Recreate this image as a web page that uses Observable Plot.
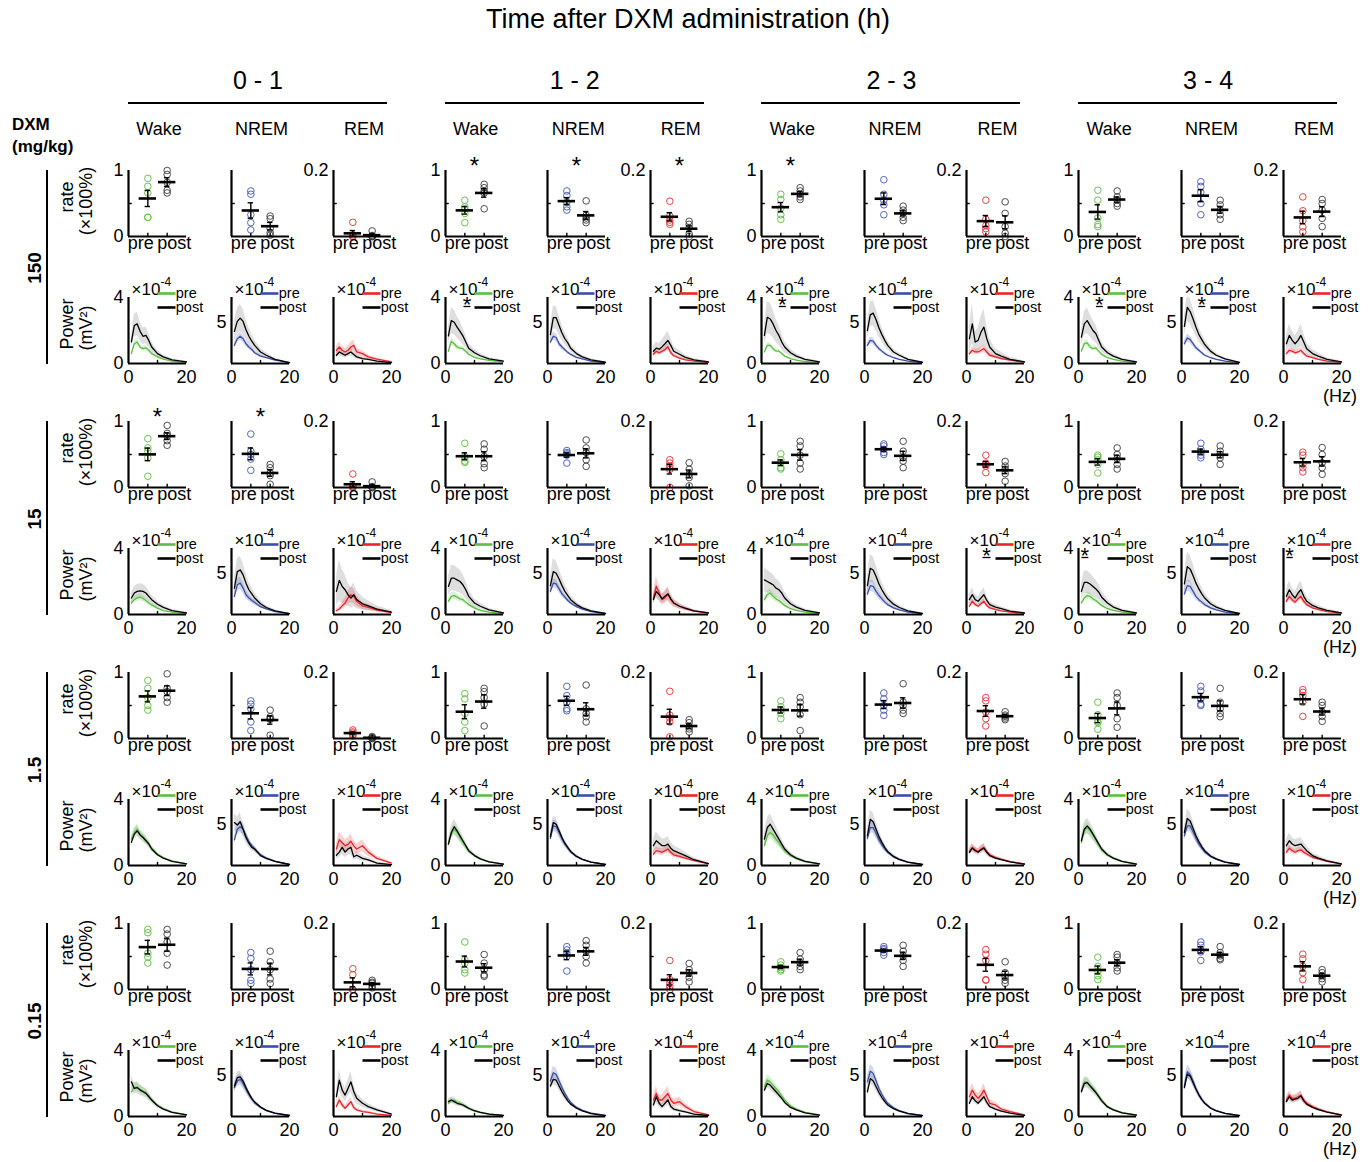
<!DOCTYPE html>
<html><head><meta charset="utf-8">
<script src="https://cdn.jsdelivr.net/npm/d3@7"></script>
<script src="https://cdn.jsdelivr.net/npm/@observablehq/plot@0.6"></script>
<style>
body{margin:0;background:#fff;font-family:"Liberation Sans",Arial,sans-serif;}
#root{position:relative;width:1370px;height:1162px;overflow:hidden;background:#fff;}
.lbl{position:absolute;white-space:nowrap;color:#000;line-height:1;transform:translate(-50%,-50%);}
.rot{transform:translate(-50%,-50%) rotate(-90deg);}
.hline{position:absolute;background:#000;}
.panel{position:absolute;}
.panel svg{overflow:visible;max-width:none;}
</style></head>
<body><div id="root"></div>
<script>
// ---------- categories ----------
const doseLabels = ["150", "15", "1.5", "0.15"];
const windowLabels = ["0 - 1", "1 - 2", "2 - 3", "3 - 4"];
const stateLabels = ["Wake", "NREM", "REM"];
const freqs = [1, 2, 3, 4, 5, 6, 7, 8, 10, 12, 15, 20]; // Hz

// ---------- rate (fraction of time), 5 animals, panel order: window x state ----------
const ratePre150 = [[0.88,0.76,0.66,0.29,0.29],[0.69,0.64,0.33,0.21,0.10],[0.043,0.005,0,0,0],
  [0.55,0.45,0.42,0.35,0.21],[0.69,0.62,0.52,0.45,0.40],[0.107,0.062,0.05,0.043,0.037],
  [0.64,0.56,0.43,0.33,0.26],[0.86,0.64,0.55,0.48,0.33],[0.11,0.052,0.033,0.024,0.014],
  [0.70,0.55,0.28,0.18,0.15],[0.83,0.76,0.67,0.50,0.33],[0.12,0.078,0.048,0.029,0.014]];
const ratePost150 = [[1.0,0.94,0.82,0.70,0.66],[0.31,0.27,0.12,0.06,0.02],[0.017,0.003,0,0,0],
  [0.79,0.74,0.69,0.66,0.42],[0.54,0.32,0.28,0.25,0.21],[0.046,0.037,0.027,0.008,0.0],
  [0.74,0.69,0.64,0.60,0.56],[0.46,0.40,0.36,0.29,0.24],[0.105,0.07,0.03,0.01,0.0],
  [0.69,0.60,0.55,0.50,0.46],[0.55,0.48,0.40,0.33,0.26],[0.112,0.10,0.08,0.055,0.03]];
const ratePre15 = [[0.74,0.60,0.55,0.45,0.17],[0.81,0.55,0.50,0.43,0.26],[0.041,0.005,0.003,0,0],
  [0.67,0.47,0.45,0.40,0.38],[0.56,0.53,0.51,0.49,0.37],[0.084,0.074,0.065,0.055,0.0],
  [0.51,0.42,0.37,0.30,0.28],[0.66,0.63,0.58,0.53,0.50],[0.098,0.074,0.07,0.065,0.045],
  [0.49,0.46,0.42,0.35,0.22],[0.67,0.58,0.53,0.49,0.45],[0.107,0.098,0.07,0.06,0.047]];
const ratePost15 = [[0.94,0.82,0.78,0.71,0.64],[0.35,0.30,0.22,0.18,0.05],[0.017,0.003,0,0,0],
  [0.66,0.58,0.47,0.36,0.30],[0.72,0.60,0.53,0.42,0.32],[0.075,0.055,0.04,0.03,0.005],
  [0.70,0.63,0.49,0.37,0.28],[0.70,0.55,0.45,0.40,0.30],[0.079,0.065,0.056,0.042,0.019],
  [0.60,0.50,0.44,0.35,0.28],[0.63,0.55,0.50,0.45,0.35],[0.121,0.10,0.075,0.06,0.04]];
const ratePre1p5 = [[0.88,0.76,0.62,0.50,0.43],[0.57,0.52,0.45,0.25,0.12],[0.026,0.02,0.016,0.012,0.008],
  [0.68,0.60,0.38,0.25,0.12],[0.79,0.65,0.55,0.45,0.42],[0.143,0.071,0.062,0.05,0.005],
  [0.57,0.48,0.43,0.38,0.30],[0.69,0.60,0.50,0.43,0.35],[0.124,0.114,0.08,0.06,0.038],
  [0.55,0.36,0.26,0.24,0.14],[0.79,0.72,0.60,0.50,0.52],[0.148,0.14,0.13,0.11,0.067]];
const ratePost1p5 = [[0.98,0.76,0.71,0.62,0.55],[0.43,0.33,0.29,0.30,0.05],[0.006,0.003,0.002,0,0],
  [0.76,0.71,0.62,0.52,0.19],[0.81,0.45,0.38,0.33,0.25],[0.057,0.048,0.035,0.029,0.02],
  [0.62,0.55,0.48,0.36,0.12],[0.83,0.55,0.50,0.43,0.38],[0.081,0.071,0.067,0.062,0.057],
  [0.69,0.62,0.50,0.30,0.17],[0.76,0.55,0.45,0.38,0.33],[0.11,0.10,0.08,0.067,0.052]];
const ratePre0p15 = [[0.91,0.86,0.55,0.49,0.40],[0.56,0.47,0.30,0.14,0.09],[0.063,0.045,0,0,0],
  [0.72,0.45,0.40,0.30,0.25],[0.65,0.60,0.55,0.50,0.28],[0.088,0.03,0.019,0.009,0.0],
  [0.42,0.37,0.33,0.30,0.28],[0.65,0.62,0.60,0.56,0.52],[0.121,0.107,0.088,0.03,0.028],
  [0.49,0.35,0.28,0.21,0.15],[0.72,0.67,0.60,0.57,0.44],[0.107,0.093,0.07,0.051,0.03]];
const ratePost0p15 = [[0.91,0.84,0.72,0.55,0.37],[0.58,0.42,0.30,0.16,0.09],[0.028,0.022,0.019,0.011,0.005],
  [0.53,0.40,0.30,0.22,0.20],[0.74,0.67,0.58,0.50,0.40],[0.079,0.06,0.051,0.037,0.023],
  [0.56,0.46,0.40,0.35,0.30],[0.67,0.58,0.51,0.44,0.35],[0.084,0.051,0.037,0.028,0.019],
  [0.53,0.49,0.40,0.33,0.28],[0.65,0.56,0.51,0.47,0.45],[0.06,0.051,0.042,0.033,0.023]];

// ---------- power spectra (x1e-4 mV^2) at freqs ----------
const powerPre150 = [
  [0.6,1.2,1.3,1.0,0.9,0.95,0.8,0.6,0.4,0.26,0.15,0.06],[2.2,3.0,3.3,3.0,2.4,2.0,1.7,1.3,0.9,0.7,0.4,0.1],[0.8,1.0,0.8,0.7,0.8,1.0,1.1,0.7,0.6,0.4,0.26,0.1],
  [0.74,1.34,1.2,1.0,0.93,0.9,0.74,0.56,0.37,0.28,0.19,0.1],[2.6,3.3,3.15,2.4,2.0,1.67,1.35,1.1,0.74,0.55,0.3,0.1],[0.56,0.74,0.65,0.74,0.84,1.02,0.65,0.47,0.33,0.22,0.15,0.07],
  [0.7,1.1,1.1,0.9,0.75,0.75,0.6,0.45,0.3,0.2,0.12,0.05],[2.2,2.8,2.7,2.2,1.8,1.5,1.2,1.0,0.7,0.5,0.3,0.1],[0.6,0.8,0.7,0.7,0.8,0.9,0.7,0.5,0.4,0.3,0.2,0.08],
  [0.75,1.2,1.25,1.0,0.9,0.95,0.75,0.55,0.35,0.25,0.15,0.06],[2.4,3.1,2.9,2.4,1.9,1.6,1.3,1.0,0.7,0.5,0.3,0.1],[0.6,0.8,0.75,0.65,0.7,0.8,0.6,0.45,0.35,0.25,0.15,0.08]];
const powerPost150 = [
  [1.31,2.3,2.4,1.95,1.65,1.7,1.4,1.0,0.6,0.4,0.22,0.1],[3.9,5.1,5.5,5.1,4.1,3.3,2.7,2.2,1.4,1.0,0.5,0.1],[0.5,0.7,0.6,0.5,0.6,0.7,0.55,0.4,0.3,0.25,0.15,0.05],
  [1.67,2.6,2.5,2.2,1.95,1.67,1.3,0.93,0.65,0.47,0.28,0.15],[3.5,5.55,5.55,4.6,3.7,3.0,2.5,1.85,1.2,0.8,0.45,0.15],[0.74,0.93,0.87,1.02,1.2,1.4,1.1,0.74,0.56,0.37,0.22,0.1],
  [1.7,2.8,2.7,2.4,2.0,1.7,1.3,1.0,0.65,0.45,0.25,0.1],[4.0,5.9,6.1,5.3,4.3,3.5,2.8,2.2,1.4,1.0,0.5,0.15],[1.5,2.4,1.3,1.4,1.9,2.2,1.5,1.0,0.6,0.45,0.25,0.1],
  [1.6,2.4,2.6,2.3,2.0,1.8,1.4,1.0,0.65,0.45,0.25,0.1],[4.5,6.8,6.3,5.4,4.4,3.5,2.9,2.3,1.5,1.0,0.55,0.15],[1.2,1.7,1.4,1.2,1.4,1.7,1.3,0.9,0.6,0.45,0.25,0.1]];
const powerPre15 = [
  [0.7,0.9,1.0,1.05,0.97,0.85,0.7,0.58,0.39,0.23,0.15,0.06],[2.2,3.6,3.8,3.2,2.4,2.0,1.7,1.45,0.95,0.67,0.35,0.1],[0.23,0.33,0.52,0.7,1.0,1.2,1.1,0.8,0.52,0.43,0.27,0.12],
  [0.8,1.1,1.15,1.05,0.95,0.9,0.75,0.6,0.4,0.25,0.15,0.06],[2.8,3.8,3.7,3.1,2.5,2.1,1.7,1.4,0.95,0.65,0.35,0.1],[1.0,1.7,1.3,0.9,1.0,1.25,0.9,0.7,0.5,0.35,0.2,0.08],
  [0.9,1.2,1.3,1.1,0.95,0.85,0.7,0.55,0.35,0.25,0.15,0.06],[2.5,3.5,3.4,2.8,2.3,1.9,1.5,1.2,0.8,0.55,0.3,0.1],[0.5,0.8,0.6,0.5,0.65,0.8,0.55,0.4,0.3,0.22,0.15,0.07],
  [0.7,1.0,1.15,1.1,0.95,0.85,0.7,0.55,0.35,0.25,0.15,0.06],[2.5,3.5,3.4,2.8,2.2,1.8,1.5,1.2,0.8,0.55,0.3,0.1],[0.8,1.1,0.9,0.75,0.95,1.1,0.8,0.6,0.4,0.3,0.18,0.08]];
const powerPost15 = [
  [1.0,1.3,1.4,1.43,1.4,1.3,1.1,0.9,0.62,0.43,0.23,0.1],[3.2,5.2,5.4,4.8,3.8,3.0,2.5,2.0,1.3,0.85,0.45,0.1],[1.4,2.07,1.7,1.5,1.2,1.0,1.2,0.9,0.65,0.52,0.33,0.15],
  [1.7,2.2,2.2,2.1,2.0,1.8,1.5,1.1,0.7,0.5,0.28,0.1],[3.5,5.2,5.0,4.3,3.5,2.8,2.3,1.8,1.2,0.8,0.45,0.12],[0.9,1.4,1.2,0.95,1.1,1.25,0.95,0.7,0.5,0.38,0.22,0.1],
  [2.1,2.0,1.9,1.8,1.6,1.5,1.3,1.0,0.65,0.45,0.25,0.1],[3.5,5.6,5.4,4.6,3.7,3.0,2.4,1.9,1.25,0.85,0.45,0.12],[0.9,1.2,0.9,0.8,1.0,1.2,0.85,0.6,0.45,0.35,0.2,0.1],
  [1.4,1.95,1.95,1.85,1.7,1.55,1.35,1.05,0.7,0.45,0.25,0.1],[3.7,5.8,5.5,4.7,3.8,3.1,2.5,2.0,1.3,0.9,0.5,0.12],[1.1,1.5,1.2,1.0,1.3,1.5,1.1,0.8,0.55,0.4,0.25,0.1]];
const powerPre1p5 = [
  [1.6,2.0,2.2,1.9,1.75,1.55,1.35,1.05,0.68,0.47,0.27,0.1],[3.1,4.4,4.7,4.4,3.6,2.9,2.4,2.0,1.3,0.9,0.5,0.12],[1.0,1.57,1.38,1.2,1.28,1.47,1.19,1.0,1.2,0.81,0.43,0.15],
  [1.3,1.9,2.2,2.0,1.7,1.4,1.15,0.88,0.6,0.4,0.22,0.08],[3.3,4.8,4.7,4.0,3.2,2.6,2.1,1.65,1.1,0.75,0.4,0.12],[0.7,0.9,0.85,0.8,0.9,1.0,0.8,0.65,0.55,0.45,0.3,0.1],
  [1.2,1.8,2.0,1.85,1.6,1.4,1.15,0.9,0.6,0.42,0.23,0.09],[3.3,4.6,4.6,3.9,3.1,2.5,2.0,1.6,1.05,0.7,0.38,0.12],[0.85,1.1,0.95,0.85,1.0,1.1,0.85,0.65,0.48,0.37,0.23,0.09],
  [1.4,2.1,2.3,2.1,1.85,1.55,1.25,0.95,0.62,0.43,0.24,0.09],[3.6,4.8,4.8,4.1,3.3,2.6,2.1,1.65,1.1,0.75,0.4,0.12],[0.8,1.05,0.9,0.8,0.9,0.95,0.8,0.7,0.5,0.4,0.25,0.08]];
const powerPost1p5 = [
  [1.4,1.9,2.1,1.85,1.7,1.5,1.3,1.0,0.65,0.45,0.25,0.1],[5.2,4.9,5.3,4.4,3.4,2.7,2.2,2.0,1.2,0.85,0.5,0.12],[0.62,0.81,1.1,0.81,1.0,1.1,0.53,0.62,0.43,0.34,0.15,0.05],
  [1.3,2.0,2.35,2.1,1.8,1.5,1.2,0.9,0.6,0.4,0.22,0.08],[3.5,5.2,5.0,4.2,3.4,2.7,2.2,1.7,1.1,0.75,0.4,0.12],[1.2,1.5,1.35,1.2,1.2,1.3,1.05,0.9,0.75,0.6,0.35,0.12],
  [1.6,2.3,2.5,2.2,1.9,1.6,1.3,1.0,0.65,0.45,0.25,0.1],[3.6,5.6,5.3,4.4,3.5,2.8,2.2,1.7,1.1,0.75,0.4,0.12],[0.8,1.05,0.9,0.8,0.95,1.05,0.8,0.6,0.45,0.35,0.22,0.08],
  [1.5,2.2,2.4,2.2,1.9,1.6,1.3,1.0,0.65,0.45,0.25,0.09],[4.0,5.7,5.4,4.5,3.6,2.9,2.3,1.8,1.15,0.8,0.42,0.12],[1.2,1.5,1.3,1.2,1.25,1.3,1.1,0.9,0.6,0.45,0.28,0.1]];
const powerPre0p15 = [
  [1.5,1.75,1.8,1.65,1.55,1.45,1.25,1.0,0.68,0.47,0.26,0.1],[3.5,4.3,4.5,4.0,3.3,2.65,2.1,1.65,1.1,0.72,0.38,0.12],[0.6,1.0,0.7,0.5,0.7,0.9,0.55,0.4,0.3,0.25,0.15,0.07],
  [0.8,0.95,1.0,0.85,0.8,0.7,0.6,0.48,0.33,0.24,0.14,0.06],[4.3,5.3,5.1,4.3,3.5,2.8,2.2,1.7,1.1,0.75,0.4,0.12],[1.0,1.4,1.0,1.0,1.2,1.4,1.0,0.8,0.9,0.6,0.3,0.1],
  [1.8,2.2,2.1,1.9,1.7,1.5,1.25,1.0,0.65,0.45,0.25,0.1],[4.2,5.5,5.2,4.3,3.4,2.7,2.1,1.6,1.05,0.7,0.38,0.12],[1.2,1.6,1.3,1.1,1.3,1.6,1.2,0.8,0.7,0.45,0.3,0.1],
  [1.6,2.1,2.1,1.9,1.7,1.5,1.25,1.0,0.6,0.42,0.24,0.09],[3.7,5.4,5.1,4.3,3.4,2.7,2.1,1.65,1.05,0.7,0.38,0.12],[1.0,1.3,1.1,1.1,1.2,1.3,1.0,0.8,0.6,0.45,0.28,0.1]];
const powerPost0p15 = [
  [2.1,1.7,1.75,1.6,1.5,1.4,1.2,1.0,0.65,0.45,0.25,0.1],[3.7,4.7,4.8,4.3,3.5,2.8,2.2,1.75,1.15,0.75,0.4,0.12],[1.2,2.2,1.6,1.3,1.7,2.1,1.5,1.1,0.8,0.6,0.4,0.15],
  [0.9,1.0,0.9,0.8,0.75,0.7,0.6,0.5,0.35,0.25,0.15,0.06],[3.7,4.5,4.4,3.7,3.0,2.4,1.9,1.5,1.0,0.68,0.36,0.11],[0.7,1.2,0.8,0.6,0.8,1.0,0.6,0.45,0.35,0.28,0.15,0.06],
  [1.6,2.0,1.9,1.7,1.5,1.3,1.1,0.85,0.55,0.4,0.22,0.08],[3.0,4.6,4.3,3.6,2.9,2.3,1.8,1.4,0.95,0.65,0.35,0.11],[0.8,1.2,0.95,0.8,1.0,1.2,0.85,0.6,0.45,0.32,0.2,0.07],
  [1.5,2.0,2.05,1.85,1.65,1.45,1.2,0.95,0.58,0.4,0.22,0.08],[3.5,5.1,4.9,4.1,3.3,2.6,2.05,1.6,1.0,0.68,0.37,0.11],[0.9,1.2,1.0,1.05,1.1,1.25,0.95,0.75,0.55,0.42,0.26,0.09]];

// relative SEM of each spectrum (shaded band half-width / value)
const bandPre150 = [.15,.15,.3, .15,.15,.2, .15,.15,.25, .15,.15,.2];
const bandPost150 = [.3,.3,.35, .3,.25,.4, .35,.25,.5, .3,.25,.4];
const bandPre15 = [.2,.2,.4, .2,.15,.35, .2,.2,.2, .2,.2,.2];
const bandPost15 = [.3,.3,.6, .35,.3,.3, .35,.3,.35, .35,.3,.35];
const bandPre1p5 = [.15,.15,.3, .15,.15,.25, .2,.15,.2, .15,.15,.2];
const bandPost1p5 = [.15,.2,.4, .2,.15,.35, .25,.2,.25, .2,.2,.3];
const bandPre0p15 = [.15,.15,.25, .2,.15,.3, .15,.15,.25, .15,.15,.2];
const bandPost0p15 = [.2,.15,.3, .2,.15,.3, .15,.15,.2, .15,.1,.2];

// significance marks
const rateStars = [
  {dose: "150", win: "1 - 2", state: "Wake"}, {dose: "150", win: "1 - 2", state: "NREM"},
  {dose: "150", win: "1 - 2", state: "REM"}, {dose: "150", win: "2 - 3", state: "Wake"},
  {dose: "15", win: "0 - 1", state: "Wake"}, {dose: "15", win: "0 - 1", state: "NREM"}];
const powerStars = [
  {dose: "150", win: "1 - 2", state: "Wake", f1: 6.2, f2: 8.6},
  {dose: "150", win: "2 - 3", state: "Wake", f1: 6.0, f2: 8.4},
  {dose: "150", win: "3 - 4", state: "Wake", f1: 6.0, f2: 8.4},
  {dose: "150", win: "3 - 4", state: "NREM", f1: 5.8, f2: 8.2},
  {dose: "15", win: "2 - 3", state: "REM", f1: 5.5, f2: 8.3},
  {dose: "15", win: "3 - 4", state: "Wake", f1: 1.0, f2: 3.4},
  {dose: "15", win: "3 - 4", state: "REM", f1: 1.0, f2: 3.2}];

const lineColor = {Wake: "#5dbd43", NREM: "#3a4ea8", REM: "#e8252b"};
const dotColor = {Wake: "#6cc250", NREM: "#5565bd", REM: "#e34444"};

const doses = [
  {label: "150", ratePre: ratePre150, ratePost: ratePost150, powPre: powerPre150, powPost: powerPost150, bPre: bandPre150, bPost: bandPost150},
  {label: "15", ratePre: ratePre15, ratePost: ratePost15, powPre: powerPre15, powPost: powerPost15, bPre: bandPre15, bPost: bandPost15},
  {label: "1.5", ratePre: ratePre1p5, ratePost: ratePost1p5, powPre: powerPre1p5, powPost: powerPost1p5, bPre: bandPre1p5, bPost: bandPost1p5},
  {label: "0.15", ratePre: ratePre0p15, ratePost: ratePost0p15, powPre: powerPre0p15, powPost: powerPost0p15, bPre: bandPre0p15, bPost: bandPost0p15}];

// ---------- layout ----------
const W = 58, H = 66, ML = 40, MR = 54, MT = 36, MB = 30;
const FONT = "'Liberation Sans', Arial, Helvetica, sans-serif";
const colLeft = (g, s) => 128 + g * 316.7 + s * 102.5;
const rateTop = d => 170 + d * 251;
const powerTop = d => 297 + d * 251;
const root = document.getElementById("root");
const fmt = d => String(d);

function addLabel(text, x, y, size, extra = {}) {
  const el = document.createElement("div");
  el.className = "lbl" + (extra.rot ? " rot" : "");
  el.textContent = text;
  el.style.left = x + "px"; el.style.top = y + "px";
  el.style.fontSize = size + "px";
  if (extra.bold) el.style.fontWeight = "bold";
  if (extra.left) { el.style.transform = "translate(0,-50%)"; }
  root.appendChild(el);
  return el;
}
function addLine(x, y, w, h) {
  const el = document.createElement("div");
  el.className = "hline";
  Object.assign(el.style, {left: x + "px", top: y + "px", width: w + "px", height: h + "px"});
  root.appendChild(el);
}
function place(svg, left, top) {
  const div = document.createElement("div");
  div.className = "panel";
  div.style.left = (left - ML) + "px";
  div.style.top = (top - MT) + "px";
  div.style.width = (ML + W + MR) + "px";
  div.appendChild(svg);
  root.appendChild(div);
}
const baseStyle = {overflow: "visible", fontFamily: FONT, fontSize: "18px", background: "transparent", color: "black"};

function ratePanel(pre, post, state, star) {
  const ymax = state === "REM" ? 0.2 : 1;
  const stats = [[1, pre], [2, post]].map(([x, arr]) => {
    const m = d3.mean(arr), se = d3.deviation(arr) / Math.sqrt(arr.length);
    return {x, m, lo: m - se, hi: m + se};
  });
  const labeled = state === "Wake" ? [0, 1] : state === "REM" ? [0.2] : [];
  const marks = [
    Plot.dot(pre, {x: () => 1, y: d => d, r: 3.3, stroke: dotColor[state], strokeWidth: 1, fill: "none"}),
    Plot.dot(post, {x: () => 2, y: d => d, r: 3.3, stroke: "#3a3a3a", strokeWidth: 0.9, fill: "none"}),
    Plot.ruleX(stats, {x: "x", y1: "lo", y2: "hi", stroke: "black", strokeWidth: 1.4}),
    Plot.ruleY(stats, {y: "lo", x1: d => d.x - 0.14, x2: d => d.x + 0.14, stroke: "black", strokeWidth: 1.4}),
    Plot.ruleY(stats, {y: "hi", x1: d => d.x - 0.14, x2: d => d.x + 0.14, stroke: "black", strokeWidth: 1.4}),
    Plot.ruleY(stats, {y: "m", x1: d => d.x - 0.45, x2: d => d.x + 0.45, stroke: "black", strokeWidth: 2.6}),
    Plot.ruleX([0], {stroke: "black", strokeWidth: 2.2}),
    Plot.ruleY([0], {stroke: "black", strokeWidth: 2.2}),
    Plot.link([ymax / 2], {x1: 0, x2: 0.17, y1: d => d, y2: d => d, stroke: "black", strokeWidth: 1.4}),
    Plot.link([1, 2], {x1: d => d, x2: d => d, y1: 0, y2: ymax * 0.055, stroke: "black", strokeWidth: 1.4}),
    Plot.axisX({ticks: [1], tickFormat: () => "pre", textAnchor: "end", dx: 6, tickSize: 0, tickPadding: 0, fontSize: 18, label: null}),
    Plot.axisX({ticks: [2], tickFormat: () => "post", textAnchor: "start", dx: -10, tickSize: 0, tickPadding: 0, fontSize: 18, label: null})
  ];
  if (labeled.length) marks.push(Plot.axisY({ticks: labeled, tickFormat: fmt, tickSize: 0, tickPadding: 5, fontSize: 18, label: null}));
  if (star) marks.push(Plot.text(["*"], {x: 1.5, y: ymax, text: d => d, lineAnchor: "top", dy: -14, fontSize: 24}));
  return Plot.plot({
    width: ML + W + MR, height: MT + H + MB, marginLeft: ML, marginRight: MR, marginTop: MT, marginBottom: MB,
    x: {domain: [0, 3], axis: null}, y: {domain: [0, ymax], axis: null}, style: baseStyle, marks
  });
}

function powerPanel(pre, post, bPre, bPost, state, sig) {
  const ymax = state === "NREM" ? 8 : 4;
  const color = lineColor[state];
  const rows = freqs.map((f, i) => ({f, pre: pre[i], post: post[i]}));
  const labeled = state === "Wake" ? [0, 4] : state === "NREM" ? [5] : [];
  const marks = [
    Plot.areaY(rows, {x: "f", y1: d => d.post * (1 - bPost), y2: d => d.post * (1 + bPost), fill: "#a8a8a8", fillOpacity: 0.38, clip: true}),
    Plot.areaY(rows, {x: "f", y1: d => d.pre * (1 - bPre), y2: d => d.pre * (1 + bPre), fill: color, fillOpacity: 0.22, clip: true}),
    Plot.line(rows, {x: "f", y: "pre", stroke: color, strokeWidth: 1.3}),
    Plot.line(rows, {x: "f", y: "post", stroke: "black", strokeWidth: 1.3}),
    Plot.ruleX([0], {stroke: "black", strokeWidth: 2.2}),
    Plot.ruleY([0], {stroke: "black", strokeWidth: 2.2}),
    Plot.link([10], {x1: d => d, x2: d => d, y1: 0, y2: ymax * 0.055, stroke: "black", strokeWidth: 1.4}),
    Plot.axisX({ticks: [0, 20], tickFormat: fmt, tickSize: 0, tickPadding: 7, fontSize: 18, label: null}),
    Plot.text(["×10"], {frameAnchor: "top-left", text: d => d, textAnchor: "start", lineAnchor: "bottom", dx: 3, dy: -3, fontSize: 17}),
    Plot.text(["-4"], {frameAnchor: "top-left", text: d => d, textAnchor: "start", lineAnchor: "bottom", dx: 32, dy: -12, fontSize: 12}),
    Plot.link([0], {x1: 10, x2: 16.2, y1: ymax, y2: ymax, dy: -4, stroke: color, strokeWidth: 2.6}),
    Plot.link([0], {x1: 10, x2: 16.2, y1: ymax, y2: ymax, dy: 10, stroke: "black", strokeWidth: 2.6}),
    Plot.text(["pre"], {x: 16.3, y: ymax, text: d => d, textAnchor: "start", lineAnchor: "middle", dy: -4, fontSize: 14.5}),
    Plot.text(["post"], {x: 16.3, y: ymax, text: d => d, textAnchor: "start", lineAnchor: "middle", dy: 10, fontSize: 14.5})
  ];
  if (labeled.length) marks.push(Plot.axisY({ticks: labeled, tickFormat: fmt, tickSize: 0, tickPadding: 5, fontSize: 18, label: null}));
  if (sig) {
    marks.push(Plot.text(["*"], {x: (sig.f1 + sig.f2) / 2, y: ymax, text: d => d, lineAnchor: "top", dy: -1, fontSize: 22}));
    marks.push(Plot.link([sig], {x1: "f1", x2: "f2", y1: ymax, y2: ymax, dy: 9, stroke: "black", strokeWidth: 1.3}));
  }
  return Plot.plot({
    width: ML + W + MR, height: MT + H + MB, marginLeft: ML, marginRight: MR, marginTop: MT, marginBottom: MB,
    x: {domain: [0, 20], axis: null}, y: {domain: [0, ymax], axis: null}, style: baseStyle, marks
  });
}

// ---------- headings ----------
addLabel("Time after DXM administration (h)", 688, 19, 27);
windowLabels.forEach((w, g) => {
  const x0 = colLeft(g, 0);
  addLabel(w, x0 + 130, 80, 25);
  addLine(x0, 102, 259, 2);
  stateLabels.forEach((s, si) => addLabel(s, colLeft(g, si) + 31, 129, 18));
});
addLabel("DXM", 12, 124, 17, {bold: true, left: true});
addLabel("(mg/kg)", 12, 146, 17, {bold: true, left: true});

doses.forEach((dose, d) => {
  addLabel(dose.label, 34, 268 + d * 251, 19, {bold: true, rot: true});
  addLine(46, rateTop(d), 2, 194);
  addLabel("rate", 67, 197 + d * 251, 18, {rot: true});
  addLabel("(×100%)", 86, 201 + d * 251, 18, {rot: true});
  addLabel("Power", 67, 324 + d * 251, 18, {rot: true});
  addLabel("(mV²)", 86, 328 + d * 251, 18, {rot: true});
  addLabel("(Hz)", 1340, 396 + d * 251, 18);
  windowLabels.forEach((w, g) => {
    stateLabels.forEach((s, si) => {
      const i = g * 3 + si;
      const star = rateStars.some(r => r.dose === dose.label && r.win === w && r.state === s);
      const sig = powerStars.find(r => r.dose === dose.label && r.win === w && r.state === s);
      place(ratePanel(dose.ratePre[i], dose.ratePost[i], s, star), colLeft(g, si), rateTop(d));
      place(powerPanel(dose.powPre[i], dose.powPost[i], dose.bPre[i], dose.bPost[i], s, sig), colLeft(g, si), powerTop(d));
    });
  });
});
</script></body></html>
